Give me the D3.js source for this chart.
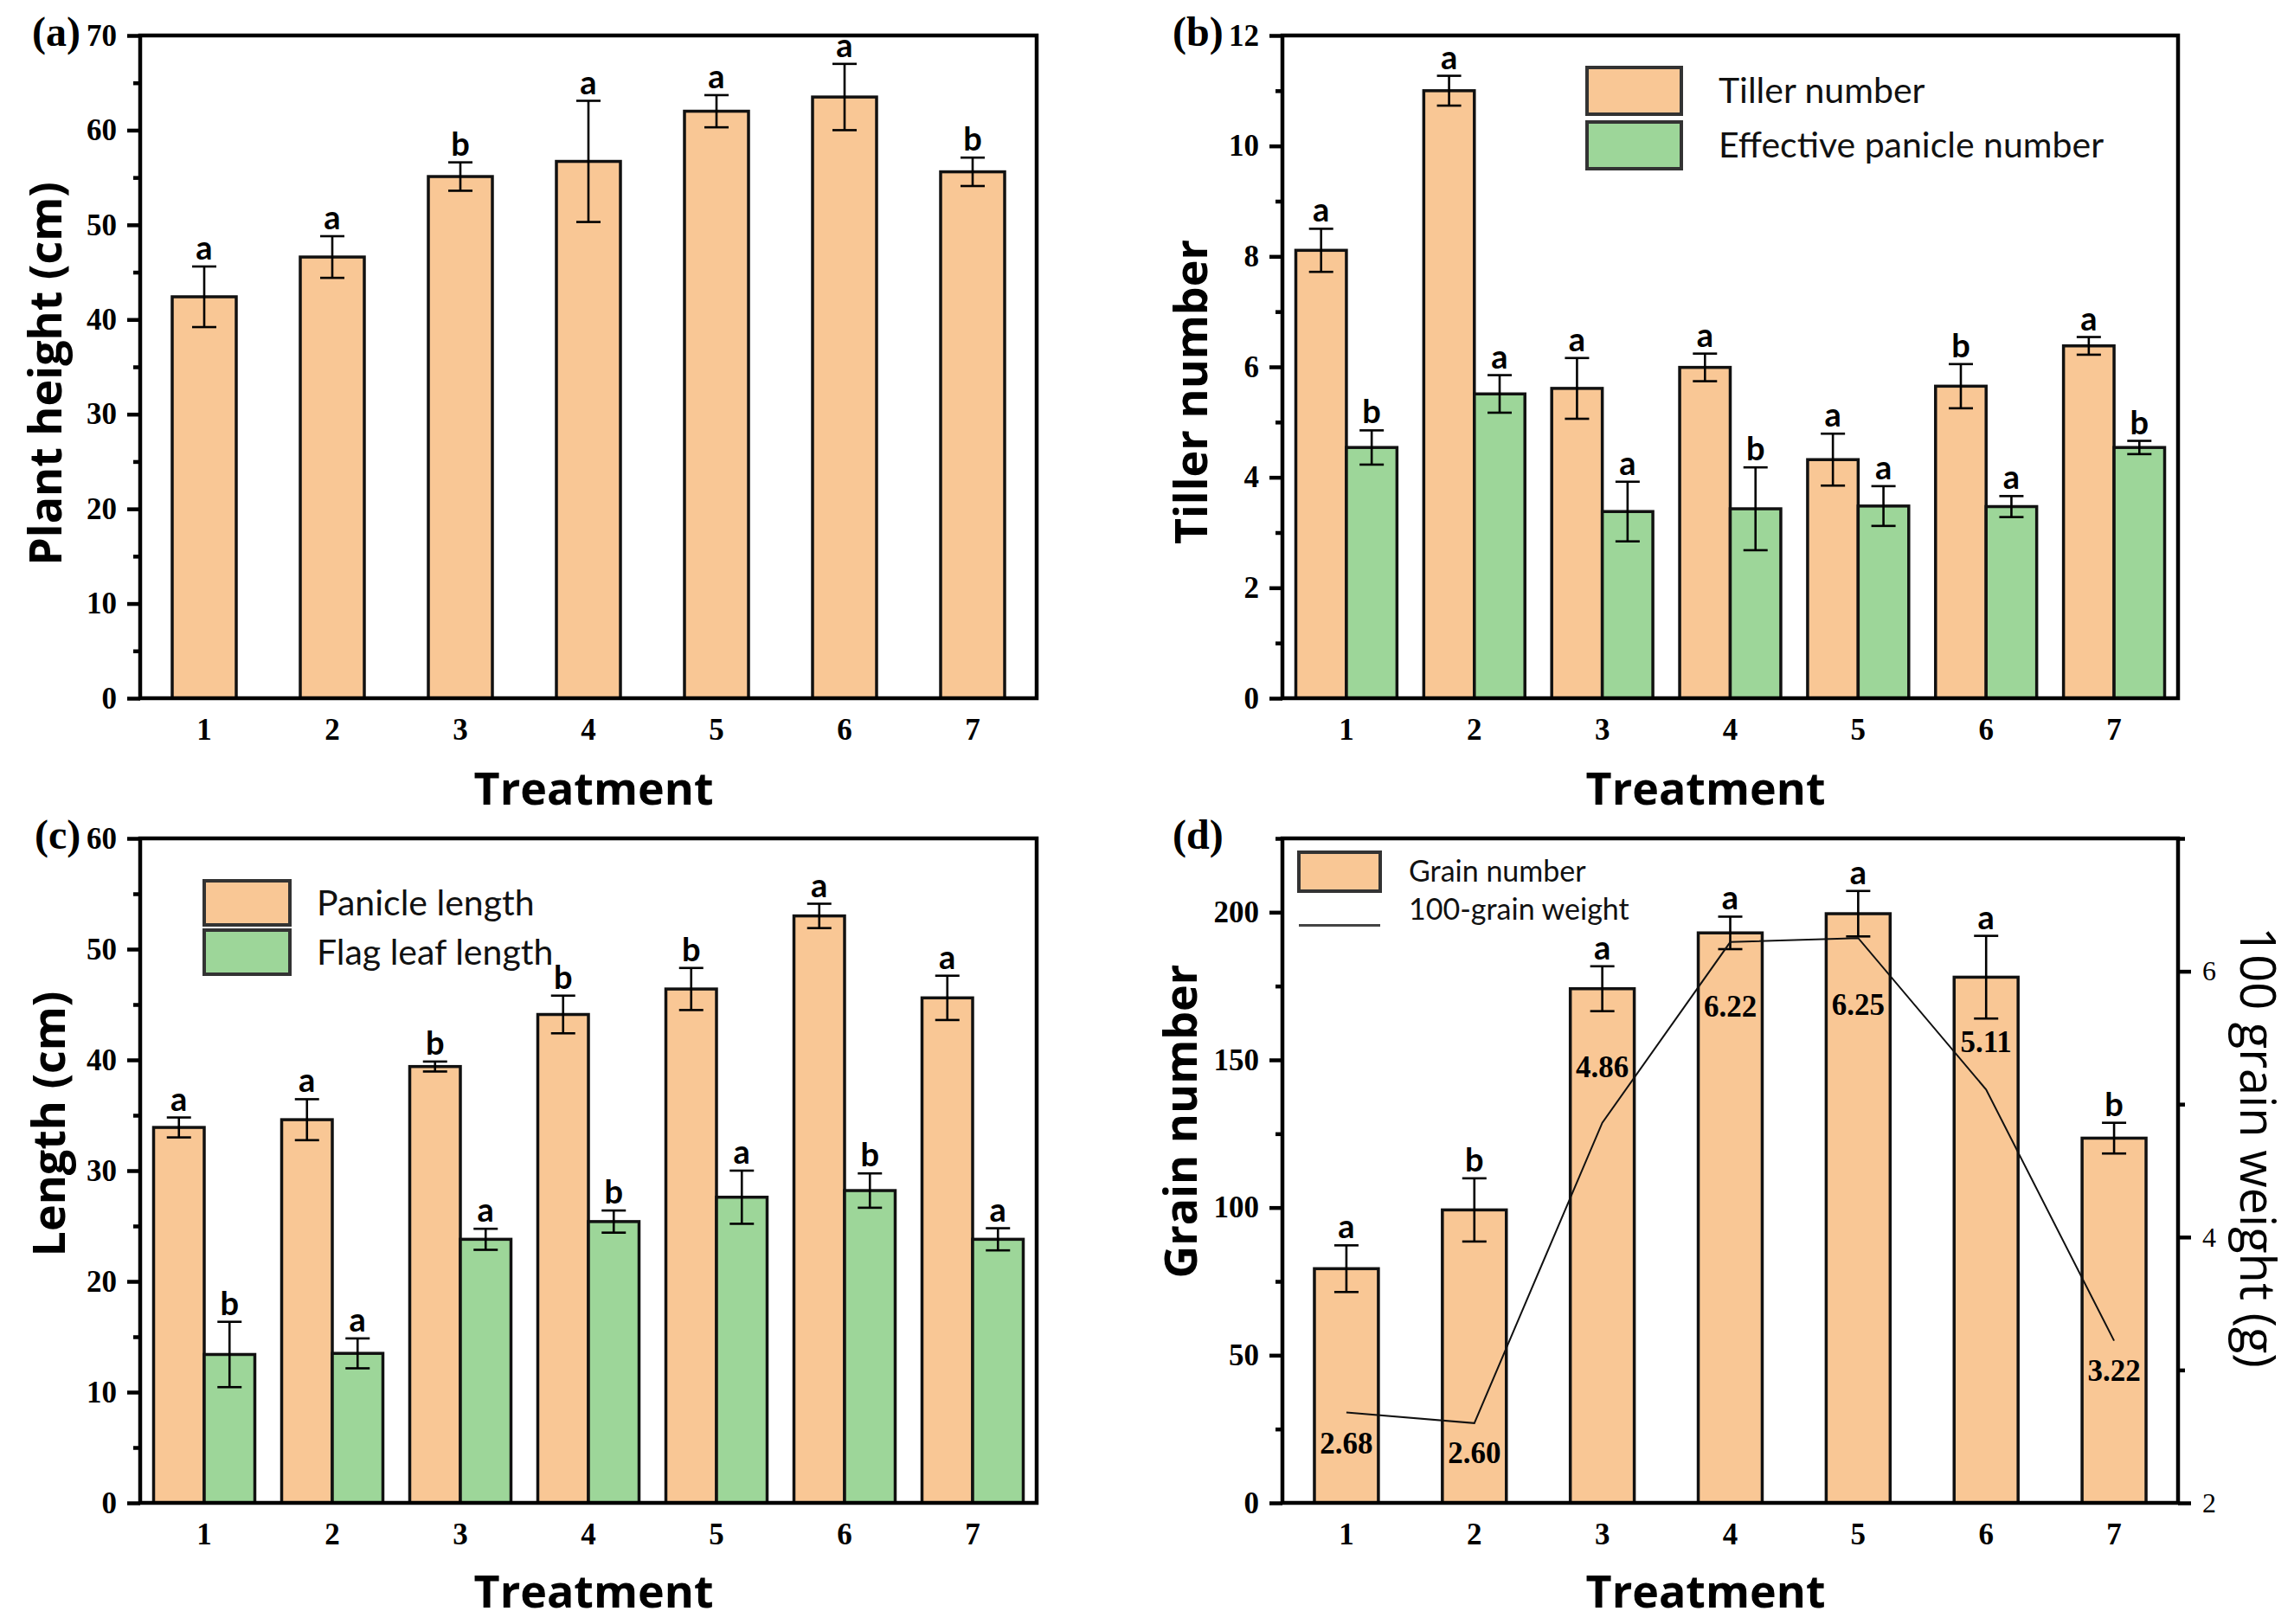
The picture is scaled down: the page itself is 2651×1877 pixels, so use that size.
<!DOCTYPE html>
<html>
<head>
<meta charset="utf-8">
<script src="https://cdn.jsdelivr.net/npm/d3@7"></script>
<style>
  body { margin: 0; background: #fff; }
</style>
</head>
<body>
<script>
// ---- data ----
const treatments = ['1', '2', '3', '4', '5', '6', '7'];

// (a) plant height (cm)
const plantHeight = [42.4, 46.6, 55.1, 56.7, 62.0, 63.5, 55.6];
const plantHeightErr = [3.2, 2.2, 1.5, 6.4, 1.7, 3.5, 1.5];
const plantHeightLetters = ['a', 'a', 'b', 'a', 'a', 'a', 'b'];

// (b) tiller number / effective panicle number
const tillerNumber = [8.11, 11.0, 5.61, 5.99, 4.32, 5.65, 6.38];
const tillerErr = [0.39, 0.27, 0.55, 0.25, 0.47, 0.40, 0.16];
const tillerLetters = ['a', 'a', 'a', 'a', 'a', 'b', 'a'];
const effPanicle = [4.54, 5.51, 3.38, 3.43, 3.48, 3.47, 4.54];
const effPanicleErr = [0.31, 0.34, 0.54, 0.75, 0.36, 0.19, 0.12];
const effPanicleLetters = ['b', 'a', 'a', 'b', 'a', 'a', 'b'];

// (c) panicle length / flag leaf length (cm)
const panicleLength = [33.9, 34.6, 39.4, 44.1, 46.4, 53.0, 45.6];
const panicleLengthErr = [0.9, 1.85, 0.45, 1.7, 1.9, 1.1, 2.0];
const panicleLengthLetters = ['a', 'a', 'b', 'b', 'b', 'a', 'a'];
const flagLeaf = [13.4, 13.5, 23.8, 25.4, 27.6, 28.2, 23.8];
const flagLeafErr = [2.95, 1.35, 0.95, 1.0, 2.4, 1.55, 1.0];
const flagLeafLetters = ['b', 'a', 'a', 'b', 'a', 'b', 'a'];

// (d) grain number and 100-grain weight (g)
const grainNumber = [79.3, 99.2, 174.1, 193.0, 199.5, 178.0, 123.5];
const grainNumberErr = [7.9, 10.7, 7.6, 5.5, 7.7, 14.0, 5.2];
const grainNumberLetters = ['a', 'b', 'a', 'a', 'a', 'a', 'b'];
const grainWeight = [2.68, 2.60, 4.86, 6.22, 6.25, 5.11, 3.22];

// axis ticks
const heightTicks = [0, 10, 20, 30, 40, 50, 60, 70];
const tillerTicks = [0, 2, 4, 6, 8, 10, 12];
const lengthTicks = [0, 10, 20, 30, 40, 50, 60];
const grainTicks = [0, 50, 100, 150, 200];
const weightTicks = [2, 4, 6];

// ---- styles ----
const ORANGE = '#F9C795';
const GREEN = '#9DD699';
const TICK_FONT = '"Liberation Serif", "Times New Roman", serif';
const LABEL_FONT = '"Open Sans", sans-serif';
const LEGEND_FONT = 'Lato, sans-serif';

const W = 2651, H = 1877;
const svg = d3.select('body').append('svg')
    .attr('width', W)
    .attr('height', H)
    .style('background', '#fff');

// midpoints between major ticks (minor ticks)
function minorOf(ticks, extraTop) {
    const m = [];
    for (let i = 0; i < ticks.length - 1; i++) m.push((ticks[i] + ticks[i + 1]) / 2);
    if (extraTop !== undefined) m.push(extraTop);
    return m;
}

function styleAxis(sel, fontSize, weight) {
    sel.select('.domain').remove();
    sel.selectAll('.tick line').attr('stroke', '#000').attr('stroke-width', 4.5);
    sel.selectAll('.tick text')
        .attr('fill', '#000')
        .style('font-family', TICK_FONT)
        .style('font-size', fontSize + 'px')
        .style('font-weight', weight);
}

function drawPanel(cfg) {
    const g = svg.append('g');
    const { x0, x1, y0, y1 } = cfg;

    const x = d3.scaleBand().domain(treatments).range([x0, x1]).padding(0);
    const inner = d3.scaleBand()
        .domain(d3.range(cfg.series.length))
        .range([0, x.bandwidth()])
        .paddingInner(0)
        .paddingOuter(cfg.series.length === 1 ? 0.5 : 0.265);
    const y = d3.scaleLinear().domain(cfg.domain).range([y1, y0]);

    // bars
    cfg.series.forEach((s, si) => {
        g.append('g').selectAll('rect')
            .data(s.values)
            .join('rect')
            .attr('x', (d, i) => x(treatments[i]) + inner(si))
            .attr('y', d => y(d))
            .attr('width', inner.bandwidth())
            .attr('height', d => y1 - y(d))
            .attr('fill', s.fill)
            .attr('stroke', '#111')
            .attr('stroke-width', 3.5);
    });

    // error bars and letters
    cfg.series.forEach((s, si) => {
        const eg = g.append('g').attr('stroke', '#000').attr('stroke-width', 2.6);
        s.values.forEach((v, i) => {
            const cx = x(treatments[i]) + inner(si) + inner.bandwidth() / 2;
            const top = y(v + s.errs[i]);
            const bot = y(v - s.errs[i]);
            eg.append('line').attr('x1', cx).attr('x2', cx).attr('y1', top).attr('y2', bot);
            eg.append('line').attr('x1', cx - 14).attr('x2', cx + 14).attr('y1', top).attr('y2', top);
            eg.append('line').attr('x1', cx - 14).attr('x2', cx + 14).attr('y1', bot).attr('y2', bot);
            g.append('text')
                .attr('x', cx)
                .attr('y', top - 8)
                .attr('text-anchor', 'middle')
                .style('font-family', LEGEND_FONT)
                .style('font-weight', 'bold')
                .style('font-size', '38px')
                .text(s.letters[i]);
        });
    });

    if (cfg.extra) cfg.extra(g, x, y);

    // frame
    g.append('rect')
        .attr('x', x0).attr('y', y0)
        .attr('width', x1 - x0).attr('height', y1 - y0)
        .attr('fill', 'none')
        .attr('stroke', '#000')
        .attr('stroke-width', 4.5);

    // y axis
    g.append('g')
        .attr('transform', `translate(${x0},0)`)
        .call(d3.axisLeft(y).tickValues(cfg.ticks).tickSize(15).tickPadding(12).tickFormat(d3.format('d')))
        .call(sel => styleAxis(sel, 35, 'bold'));
    g.append('g')
        .attr('transform', `translate(${x0},0)`)
        .call(d3.axisLeft(y).tickValues(cfg.minor).tickSize(8).tickFormat(''))
        .call(sel => styleAxis(sel, 35, 'bold'));

    // x axis labels
    g.append('g')
        .attr('transform', `translate(0,${y1})`)
        .call(d3.axisBottom(x).tickSize(0).tickPadding(23))
        .call(sel => styleAxis(sel, 35, 'bold'));

    // panel tag
    g.append('text')
        .attr('x', cfg.tag[1]).attr('y', cfg.tag[2])
        .style('font-family', TICK_FONT)
        .style('font-weight', 'bold')
        .style('font-size', '48px')
        .text(cfg.tag[0]);

    // axis titles
    g.append('text')
        .attr('transform', `translate(${cfg.yLabel[1]},${cfg.yLabel[2]}) rotate(-90)`)
        .attr('text-anchor', 'middle')
        .style('font-family', LABEL_FONT)
        .style('font-weight', 'bold')
        .style('font-size', '52px')
        .text(cfg.yLabel[0]);

    g.append('text')
        .attr('x', cfg.xLabel[0]).attr('y', cfg.xLabel[1])
        .attr('text-anchor', 'middle')
        .style('font-family', LABEL_FONT)
        .style('font-weight', 'bold')
        .style('font-size', '52px')
        .text('Treatment');

    if (cfg.legend) drawLegend(g, cfg.legend);
    return { g, x, y };
}

function drawLegend(g, lg) {
    lg.items.forEach((it, i) => {
        const by = lg.y + i * lg.rowH;
        if (it.type === 'line') {
            g.append('line')
                .attr('x1', lg.x).attr('x2', lg.x + lg.boxW)
                .attr('y1', by + lg.boxH / 2 + 18).attr('y2', by + lg.boxH / 2 + 18)
                .attr('stroke', '#444').attr('stroke-width', 3);
        } else {
            g.append('rect')
                .attr('x', lg.x).attr('y', by)
                .attr('width', lg.boxW).attr('height', lg.boxH)
                .attr('fill', it.fill)
                .attr('stroke', '#333')
                .attr('stroke-width', 4);
        }
        g.append('text')
            .attr('x', lg.textX)
            .attr('y', by + lg.boxH / 2)
            .attr('dy', '0.35em')
            .style('font-family', LEGEND_FONT)
            .style('font-size', lg.fontSize + 'px')
            .style('fill', '#111')
            .text(it.label);
    });
}

// (a)
drawPanel({
    x0: 162, x1: 1198, y0: 41, y1: 807,
    domain: [0, 70], ticks: heightTicks, minor: minorOf(heightTicks),
    series: [{ values: plantHeight, errs: plantHeightErr, letters: plantHeightLetters, fill: ORANGE }],
    tag: ['(a)', 37, 53],
    yLabel: ['Plant height (cm)', 71, 432],
    xLabel: [686, 930]
});

// (b)
drawPanel({
    x0: 1482, x1: 2517, y0: 41, y1: 807,
    domain: [0, 12], ticks: tillerTicks, minor: minorOf(tillerTicks),
    series: [
        { values: tillerNumber, errs: tillerErr, letters: tillerLetters, fill: ORANGE },
        { values: effPanicle, errs: effPanicleErr, letters: effPanicleLetters, fill: GREEN }
    ],
    tag: ['(b)', 1355, 53],
    yLabel: ['Tiller number', 1395, 453],
    xLabel: [1971, 930],
    legend: {
        x: 1834, y: 78, boxW: 109, boxH: 54, rowH: 63, textX: 1986, fontSize: 41,
        items: [{ label: 'Tiller number', fill: ORANGE }, { label: 'Effective panicle number', fill: GREEN }]
    }
});

// (c)
drawPanel({
    x0: 162, x1: 1198, y0: 969, y1: 1737,
    domain: [0, 60], ticks: lengthTicks, minor: minorOf(lengthTicks),
    series: [
        { values: panicleLength, errs: panicleLengthErr, letters: panicleLengthLetters, fill: ORANGE },
        { values: flagLeaf, errs: flagLeafErr, letters: flagLeafLetters, fill: GREEN }
    ],
    tag: ['(c)', 40, 981],
    yLabel: ['Length (cm)', 75, 1299],
    xLabel: [686, 1858],
    legend: {
        x: 236, y: 1018, boxW: 99, boxH: 51, rowH: 57, textX: 366, fontSize: 41,
        items: [{ label: 'Panicle length', fill: ORANGE }, { label: 'Flag leaf length', fill: GREEN }]
    }
});

// (d) with secondary axis for 100-grain weight
const weightLabelDy = [35, 34, -65, 74, 77, -56, 34];
drawPanel({
    x0: 1482, x1: 2517, y0: 969, y1: 1737,
    domain: [0, 225], ticks: grainTicks, minor: minorOf(grainTicks, 225),
    series: [{ values: grainNumber, errs: grainNumberErr, letters: grainNumberLetters, fill: ORANGE }],
    tag: ['(d)', 1355, 981],
    yLabel: ['Grain number', 1383, 1296],
    xLabel: [1971, 1858],
    legend: {
        x: 1501, y: 985, boxW: 94, boxH: 45, rowH: 44, textX: 1628, fontSize: 34,
        items: [{ label: 'Grain number', fill: ORANGE }, { label: '100-grain weight', type: 'line' }]
    },
    extra: (g, x, y) => {
        const yr = d3.scaleLinear().domain([2, 7]).range([1737, 969]);
        const cx = i => x(treatments[i]) + x.bandwidth() / 2;

        g.append('path')
            .datum(grainWeight)
            .attr('fill', 'none')
            .attr('stroke', '#111')
            .attr('stroke-width', 2)
            .attr('d', d3.line().x((d, i) => cx(i)).y(d => yr(d)));

        g.selectAll('.wlabel')
            .data(grainWeight)
            .join('text')
            .attr('class', 'wlabel')
            .attr('x', (d, i) => cx(i))
            .attr('y', (d, i) => yr(d) + weightLabelDy[i])
            .attr('dy', '0.35em')
            .attr('text-anchor', 'middle')
            .style('font-family', TICK_FONT)
            .style('font-weight', 'bold')
            .style('font-size', '35px')
            .text(d => d.toFixed(2));

        // right axis
        g.append('g')
            .attr('transform', 'translate(2517,0)')
            .call(d3.axisRight(yr).tickValues(weightTicks).tickSize(15).tickPadding(13).tickFormat(d3.format('d')))
            .call(sel => styleAxis(sel, 32, 'normal'));
        g.append('g')
            .attr('transform', 'translate(2517,0)')
            .call(d3.axisRight(yr).tickValues([3, 5, 7]).tickSize(8).tickFormat(''))
            .call(sel => styleAxis(sel, 32, 'normal'));

        g.append('text')
            .attr('transform', 'translate(2589,1326) rotate(90)')
            .attr('text-anchor', 'middle')
            .style('font-family', LABEL_FONT)
            .style('font-size', '56px')
            .text('100 grain weight (g)');
    }
});
</script>
</body>
</html>
